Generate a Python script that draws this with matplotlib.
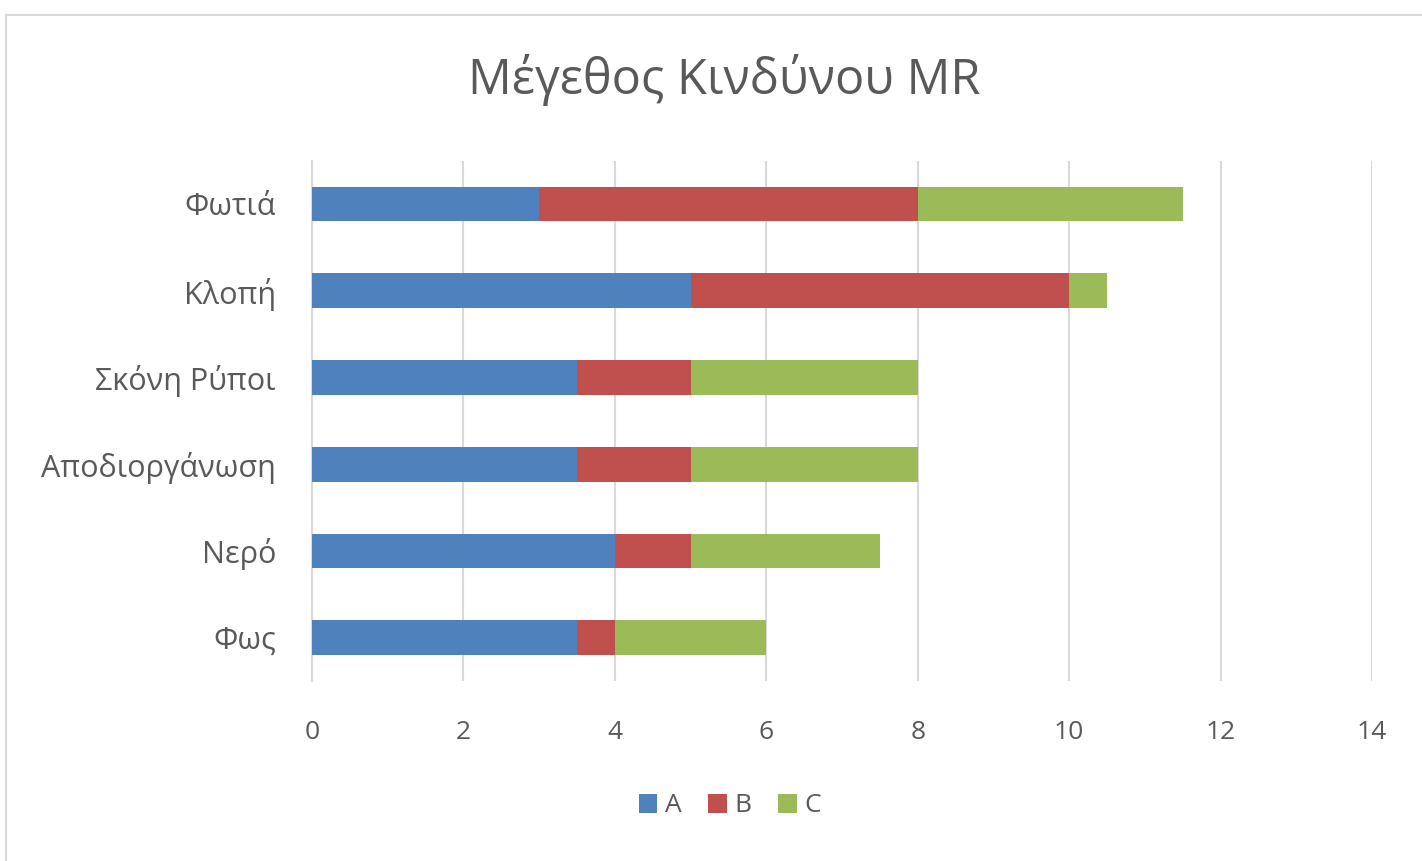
import numpy as np
import matplotlib.pyplot as plt
from matplotlib.patches import Rectangle

# data (bottom to top)
cats = ['Φως', 'Νερό', 'Αποδιοργάνωση', 'Σκόνη Ρύποι', 'Κλοπή', 'Φωτιά']
a_vals = [3.5, 4, 3.5, 3.5, 5, 3]
b_vals = [0.5, 1, 1.5, 1.5, 5, 5]
c_vals = [2, 2.5, 3, 3, 0.5, 3.5]
series = ['A', 'B', 'C']
colors = ['#4F81BD', '#C0504D', '#9BBB59']
xticks = [0, 2, 4, 6, 8, 10, 12, 14]

plt.rcParams['font.family'] = ['Open Sans', 'DejaVu Sans']

fig = plt.figure(figsize=(14.22, 8.61), dpi=100)
fig.patches.append(Rectangle((6/1422, -0.01), 1.01, 1 - 15/861 + 0.01, transform=fig.transFigure,
                             fill=False, edgecolor='#D9D9D9', linewidth=1.5))
ax = fig.add_axes([312/1422, 1 - 681/861, (1372 - 312)/1422, (681 - 160.6)/861])

y = np.arange(len(cats))
left = np.zeros(len(cats))
for name, vals, col in zip(series, [a_vals, b_vals, c_vals], colors):
    ax.barh(y, vals, left=left, height=0.4, color=col, label=name, zorder=3)
    left += np.array(vals)

ax.set_xlim(0, 14)
ax.set_ylim(-0.5, len(cats) - 0.5)
ax.set_xticks(xticks)
ax.set_yticks(y)
ax.set_yticklabels(cats)
ax.grid(axis='x', color='#D9D9D9', linewidth=1.5, zorder=0)
for s in ['top', 'right', 'bottom']:
    ax.spines[s].set_visible(False)
ax.spines['left'].set_color('#D9D9D9')
ax.spines['left'].set_linewidth(1.5)
ax.tick_params(axis='both', length=0, labelcolor='#595959')
ax.tick_params(axis='x', pad=28, labelsize=19)
ax.tick_params(axis='y', pad=26, labelsize=22)

fig.text(724/1422, 1 - 80/861, 'Μέγεθος Κινδύνου MR', ha='center', va='center',
         fontsize=35, color='#595959')

fig.legend(loc='center', bbox_to_anchor=(730/1422, 1 - 806/861), ncol=3, frameon=False,
           fontsize=19, handlelength=0.7, handleheight=0.7, handletextpad=0.3,
           columnspacing=1.0, labelcolor='#595959')

fig.savefig('out.png', dpi=100)
